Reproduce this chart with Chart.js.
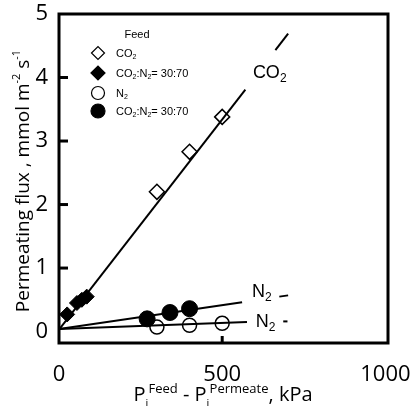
<!DOCTYPE html>
<html>
<head>
<meta charset="utf-8">
<script src="https://cdn.jsdelivr.net/npm/chart.js@4.4.1/dist/chart.umd.min.js"></script>
<style>
  html, body { margin: 0; padding: 0; background: #fff; }
</style>
</head>
<body>
<canvas id="fluxChart" width="412" height="406"></canvas>
<script>
// Permeating flux vs. partial pressure difference
const xTicks = [0, 500, 1000];
const yTicks = [0, 1, 2, 3, 4, 5];

// measured points (kPa, mmol m-2 s-1)
const co2PureX = [300, 400, 500];
const co2PureY = [2.2, 2.83, 3.38];
const co2MixX = [25, 55, 70, 85];
const co2MixY = [0.27, 0.45, 0.5, 0.55];
const n2PureX = [300, 400, 500];
const n2PureY = [0.07, 0.1, 0.13];
const n2MixX = [270, 340, 400];
const n2MixY = [0.2, 0.3, 0.36];

// fitted lines: solid part and short dash at the end
const co2FitX = [0, 571];
const co2FitY = [0.03, 3.81];
const co2DashX = [663, 702];
const co2DashY = [4.43, 4.69];
const n2MixFitX = [0, 561];
const n2MixFitY = [0.04, 0.46];
const n2MixDashX = [675, 702];
const n2MixDashY = [0.55, 0.57];
const n2PureFitX = [0, 576];
const n2PureFitY = [0.04, 0.15];
const n2PureDashX = [687, 700];
const n2PureDashY = [0.16, 0.16];

const pts = (xs, ys) => xs.map((x, i) => ({ x: x, y: ys[i] }));

function lineSet(xs, ys) {
    return {
        type: 'line', data: pts(xs, ys), showLine: true,
        borderColor: '#000', borderWidth: 2, pointRadius: 0, fill: false
    };
}

// draws text made of runs (sub/superscripts)
function richText(ctx, x, y, parts, align) {
    let total = 0;
    parts.forEach(p => {
        ctx.font = p.size + 'px ' + p.family;
        p.w = p.adv !== undefined ? p.adv : ctx.measureText(p.t).width;
        total += p.w;
    });
    let cx = align === 'center' ? x - total / 2 : x;
    parts.forEach(p => {
        ctx.font = p.size + 'px ' + p.family;
        ctx.fillText(p.t, cx, y + (p.dy || 0));
        cx += p.w;
    });
}

const sans = '"Open Sans", sans-serif';
const arial = '"Liberation Sans", Arial, sans-serif';

const decorPlugin = {
    id: 'decor',
    afterDatasetsDraw(chart) {
        const ctx = chart.ctx;
        const a = chart.chartArea;
        const xs = chart.scales.x, ys = chart.scales.y;
        ctx.save();
        ctx.strokeStyle = '#000';
        ctx.fillStyle = '#000';
        ctx.lineWidth = 3;
        ctx.strokeRect(a.left, a.top, a.right - a.left, a.bottom - a.top);

        // inward ticks
        [1, 2, 3, 4].forEach(v => {
            const py = ys.getPixelForValue(v);
            ctx.beginPath(); ctx.moveTo(a.left, py); ctx.lineTo(a.left + 9, py); ctx.stroke();
        });
        const px = xs.getPixelForValue(500);
        ctx.beginPath(); ctx.moveTo(px, a.bottom); ctx.lineTo(px, a.bottom - 7); ctx.stroke();

        // line labels
        ctx.textBaseline = 'alphabetic';
        ctx.textAlign = 'left';
        const lab = (x, y, main) => richText(ctx, xs.getPixelForValue(x), ys.getPixelForValue(y), [
            { t: main, size: 18, family: arial },
            { t: '2', size: 12, family: arial, dy: 4 }
        ]);
        lab(594, 3.99, 'CO');
        lab(591, 0.54, 'N');
        lab(603, 0.07, 'N');

        // legend
        ctx.font = '11px ' + arial;
        ctx.textAlign = 'center';
        ctx.textBaseline = 'middle';
        ctx.fillText('Feed', 137, 35);
        const rowsY = [53, 73, 93, 111];
        const styles = [
            { pointStyle: 'rectRot', radius: 6.5, fill: '#fff' },
            { pointStyle: 'rectRot', radius: 7, fill: '#000' },
            { pointStyle: 'circle', radius: 6.5, fill: '#fff' },
            { pointStyle: 'circle', radius: 7, fill: '#000' }
        ];
        styles.forEach((s, i) => {
            ctx.fillStyle = s.fill;
            ctx.strokeStyle = '#000';
            ctx.lineWidth = 1.2;
            Chart.helpers.drawPoint(ctx, { pointStyle: s.pointStyle, radius: s.radius, borderWidth: 1.2, rotation: 0 }, 98, rowsY[i]);
        });
        ctx.fillStyle = '#000';
        ctx.textAlign = 'left';
        ctx.textBaseline = 'alphabetic';
        const sub = t => ({ t: t, size: 7, family: arial, dy: 2 });
        const txt = t => ({ t: t, size: 11, family: arial });
        richText(ctx, 116, rowsY[0] + 4, [txt('CO'), sub('2')]);
        richText(ctx, 116, rowsY[1] + 4, [txt('CO'), sub('2'), txt(':N'), sub('2'), txt('= 30:70')]);
        richText(ctx, 116, rowsY[2] + 4, [txt('N'), sub('2')]);
        richText(ctx, 116, rowsY[3] + 4, [txt('CO'), sub('2'), txt(':N'), sub('2'), txt('= 30:70')]);

        // axis titles
        ctx.save();
        ctx.translate(24, 181);
        ctx.rotate(-Math.PI / 2);
        ctx.textBaseline = 'middle';
        richText(ctx, 0, 0, [
            { t: 'Permeating flux , mmol m', size: 19, family: sans },
            { t: '-2', size: 11, family: sans, dy: -7 },
            { t: ' s', size: 19, family: sans },
            { t: '-1', size: 11, family: sans, dy: -7 }
        ], 'center');
        ctx.restore();

        ctx.textBaseline = 'alphabetic';
        richText(ctx, 223, 401, [
            { t: 'P', size: 20, family: sans },
            { t: 'i', size: 11, family: sans, dy: 6, adv: 3 },
            { t: 'Feed', size: 13, family: sans, dy: -8 },
            { t: ' - P', size: 20, family: sans },
            { t: 'i', size: 11, family: sans, dy: 6, adv: 3 },
            { t: 'Permeate', size: 13, family: sans, dy: -8 },
            { t: ', kPa', size: 20, family: sans }
        ], 'center');
        ctx.restore();
    }
};

const ctx = document.getElementById('fluxChart').getContext('2d');
const fluxChart = new Chart(ctx, {
    type: 'scatter',
    data: {
        datasets: [
            lineSet(co2FitX, co2FitY),
            lineSet(co2DashX, co2DashY),
            lineSet(n2MixFitX, n2MixFitY),
            lineSet(n2MixDashX, n2MixDashY),
            lineSet(n2PureFitX, n2PureFitY),
            lineSet(n2PureDashX, n2PureDashY),
            {
                data: pts(co2PureX, co2PureY), pointStyle: 'rectRot', pointRadius: 7.5,
                backgroundColor: '#fff', borderColor: '#000', borderWidth: 1.5
            },
            {
                data: pts(co2MixX, co2MixY), pointStyle: 'rectRot', pointRadius: 7.5,
                backgroundColor: '#000', borderColor: '#000', borderWidth: 1
            },
            {
                data: pts(n2PureX, n2PureY), pointStyle: 'circle', pointRadius: 7,
                backgroundColor: 'rgba(255,255,255,0)', borderColor: '#000', borderWidth: 1.5
            },
            {
                data: pts(n2MixX, n2MixY), pointStyle: 'circle', pointRadius: 8,
                backgroundColor: '#000', borderColor: '#000', borderWidth: 1
            }
        ]
    },
    options: {
        responsive: false,
        animation: false,
        layout: { padding: { top: 14, right: 24, left: 0, bottom: 0 } },
        plugins: { legend: { display: false }, tooltip: { enabled: false } },
        scales: {
            x: {
                type: 'linear', min: 0, max: 1008,
                afterBuildTicks: s => { s.ticks = xTicks.map(v => ({ value: v })); },
                afterFit: s => { s.height = 63; s.paddingLeft = 0; s.paddingRight = 0; },
                grid: { display: false, drawTicks: false },
                border: { display: false },
                ticks: {
                    autoSkip: false, maxRotation: 0, padding: 19, color: '#000',
                    font: { family: 'Open Sans', size: 22 },
                    callback: v => String(v)
                }
            },
            y: {
                min: -0.18, max: 5,
                afterBuildTicks: s => { s.ticks = yTicks.map(v => ({ value: v })); },
                afterFit: s => { s.width = 59; s.paddingTop = 0; s.paddingBottom = 0; },
                grid: { display: false, drawTicks: false },
                border: { display: false },
                ticks: {
                    autoSkip: false, padding: 11, color: '#000',
                    font: { family: 'Open Sans', size: 22 }
                }
            }
        }
    },
    plugins: [decorPlugin]
});
</script>
</body>
</html>
